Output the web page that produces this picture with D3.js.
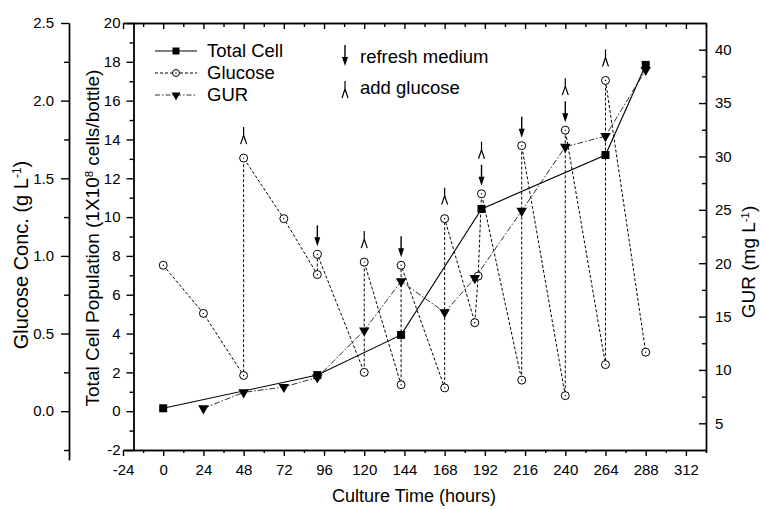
<!DOCTYPE html>
<html>
<head>
<meta charset="utf-8">
<script src="https://cdn.jsdelivr.net/npm/d3@7"></script>
<style>
  body { margin: 0; background: #fff; }
  text { font-family: "Liberation Sans", Arial, sans-serif; fill: #000; }
</style>
</head>
<body>
<div id="chart"></div>
<script>
// values
var cellTime = [0, 92, 142, 190, 264, 288];
var cellValue = [0.15, 1.86, 3.93, 10.42, 13.2, 17.84];

var gluTime = [0, 24, 48, 48, 72, 92, 92, 120, 120, 142, 142, 168, 168, 186, 188, 190, 214, 214, 240, 240, 264, 264, 288];
var gluValue = [0.94, 0.63, 0.23, 1.63, 1.24, 0.88, 1.01, 0.25, 0.96, 0.17, 0.94, 0.15, 1.24, 0.57, 0.87, 1.40, 0.20, 1.71, 0.10, 1.81, 0.30, 2.13, 0.38];

var gurTime = [24, 48, 72, 92, 120, 142, 168, 186, 214, 240, 264, 288];
var gurValue = [6.4, 7.9, 8.4, 9.3, 13.7, 18.3, 15.4, 18.6, 24.9, 30.9, 31.9, 38.1];

// feeding events
var refreshTimes = [92, 142, 190, 214, 240];
var addTimes = [48, 120, 168, 190, 240, 264];

// tick labels
var xTicks = [-24, 0, 24, 48, 72, 96, 120, 144, 168, 192, 216, 240, 264, 288, 312];
var cellTicks = [-2, 0, 2, 4, 6, 8, 10, 12, 14, 16, 18, 20];
var gluTicks = [0, 0.5, 1.0, 1.5, 2.0, 2.5];
var gurTicks = [5, 10, 15, 20, 25, 30, 35, 40];

var width = 765, height = 509;

var svg = d3.select("#chart")
  .append("svg")
    .attr("width", width)
    .attr("height", height);

// scales
var x = d3.scaleLinear().domain([-24, 324]).range([123, 706]);
var yCell = d3.scaleLinear().domain([-2, 20]).range([450, 23]);
var yGlu = d3.scaleLinear().domain([-0.3125, 2.5]).range([yCell(-2.5), 23]);
var yGur = d3.scaleLinear().domain([2.5, 42.5]).range([450, 23]);

function zip(t, v) { return t.map(function(d, i) { return {t: d, v: v[i]}; }); }
var cellData = zip(cellTime, cellValue);
var gluData = zip(gluTime, gluValue);
var gurData = zip(gurTime, gurValue);

// plain hyphen for negatives, like the original
function plain(d) { return String(d); }

function styleAxis(g) {
  g.selectAll("path, line").attr("stroke", "#000").attr("stroke-width", 1.4);
  g.selectAll("text").style("font-size", "15px").attr("fill", "#000");
}

// bottom axis
var xMinor = d3.range(-12, 325, 24);
svg.append("g")
  .attr("transform", "translate(0,450)")
  .call(d3.axisBottom(x).tickValues(xTicks).tickFormat(plain).tickSize(6).tickSizeOuter(0).tickPadding(8))
  .call(styleAxis);
svg.append("g")
  .attr("transform", "translate(0,450)")
  .call(d3.axisBottom(x).tickValues(xMinor.concat([324])).tickSize(3).tickSizeOuter(0).tickFormat(""))
  .call(styleAxis);

// top axis, ticks inward
svg.append("g")
  .attr("transform", "translate(0,23)")
  .call(d3.axisBottom(x).tickValues(xTicks).tickSize(6).tickSizeOuter(0).tickFormat(""))
  .call(styleAxis);
svg.append("g")
  .attr("transform", "translate(0,23)")
  .call(d3.axisBottom(x).tickValues(xMinor).tickSize(4).tickSizeOuter(0).tickFormat(""))
  .call(styleAxis);

// cell population axis
svg.append("g")
  .attr("transform", "translate(133.5,0)")
  .call(d3.axisLeft(yCell).tickValues(cellTicks).tickFormat(plain).tickSize(7).tickSizeOuter(0).tickPadding(6))
  .call(styleAxis);
svg.append("g")
  .attr("transform", "translate(133.5,0)")
  .call(d3.axisLeft(yCell).tickValues(d3.range(-1, 20, 2)).tickSize(4).tickSizeOuter(0).tickFormat(""))
  .call(styleAxis);

// glucose axis
svg.append("g")
  .attr("transform", "translate(69,0)")
  .call(d3.axisLeft(yGlu).tickValues(gluTicks).tickFormat(d3.format(".1f")).tickSize(8).tickSizeOuter(0).tickPadding(7))
  .call(styleAxis);
svg.append("g")
  .attr("transform", "translate(69,0)")
  .call(d3.axisLeft(yGlu).tickValues([-0.25, 0.25, 0.75, 1.25, 1.75, 2.25]).tickSize(5).tickSizeOuter(0).tickFormat(""))
  .call(styleAxis);

// GUR axis, ticks inward
svg.append("g")
  .attr("transform", "translate(706,0)")
  .call(d3.axisRight(yGur).tickValues(gurTicks).tickSize(-7).tickSizeOuter(0).tickPadding(9))
  .call(styleAxis);
svg.append("g")
  .attr("transform", "translate(706,0)")
  .call(d3.axisRight(yGur).tickValues(d3.range(7.5, 40, 5)).tickSize(-4).tickSizeOuter(0).tickFormat(""))
  .call(styleAxis);

// axis titles
function titleWithSup(sel, before, sup, after) {
  sel.append("tspan").text(before);
  sel.append("tspan").attr("dy", "-0.55em").style("font-size", "0.6em").text(sup);
  sel.append("tspan").attr("dy", "0.33em").text(after);
}

svg.append("text")
  .attr("transform", "translate(28,255) rotate(-90)")
  .attr("text-anchor", "middle")
  .style("font-size", "20px")
  .call(titleWithSup, "Glucose Conc. (g L", "-1", ")");

svg.append("text")
  .attr("transform", "translate(99,238) rotate(-90)")
  .attr("text-anchor", "middle")
  .style("font-size", "19px")
  .call(titleWithSup, "Total Cell Population (1X10", "8", " cells/bottle)");

svg.append("text")
  .attr("transform", "translate(755,262) rotate(-90)")
  .attr("text-anchor", "middle")
  .style("font-size", "19px")
  .call(titleWithSup, "GUR (mg L", "-1", ")");

svg.append("text")
  .attr("x", 414)
  .attr("y", 502)
  .attr("text-anchor", "middle")
  .style("font-size", "18px")
  .text("Culture Time (hours)");

// the lines
svg.append("path")
  .datum(gluData)
  .attr("fill", "none")
  .attr("stroke", "#000")
  .attr("stroke-width", 1)
  .attr("stroke-dasharray", "3,2")
  .attr("d", d3.line().x(function(d) { return x(d.t); }).y(function(d) { return yGlu(d.v); }));

svg.append("path")
  .datum(gurData)
  .attr("fill", "none")
  .attr("stroke", "#333")
  .attr("stroke-width", 1)
  .attr("stroke-dasharray", "6,2,1.5,2")
  .attr("d", d3.line().x(function(d) { return x(d.t); }).y(function(d) { return yGur(d.v); }));

svg.append("path")
  .datum(cellData)
  .attr("fill", "none")
  .attr("stroke", "#000")
  .attr("stroke-width", 1.1)
  .attr("d", d3.line().x(function(d) { return x(d.t); }).y(function(d) { return yCell(d.v); }));

// markers
function circleMark(g, cx, cy, r) {
  g.append("circle").attr("cx", cx).attr("cy", cy).attr("r", r)
    .attr("fill", "#fff").attr("stroke", "#000").attr("stroke-width", 1);
  g.append("circle").attr("cx", cx).attr("cy", cy).attr("r", 0.7).attr("fill", "#000");
}
function squareMark(g, cx, cy, s) {
  g.append("path")
    .attr("transform", "translate(" + cx + "," + cy + ")")
    .attr("d", d3.symbol().type(d3.symbolSquare).size(s * s)())
    .attr("fill", "#000");
}
function triangleMark(g, cx, cy, w) {
  g.append("path")
    .attr("transform", "translate(" + cx + "," + cy + ") rotate(180)")
    .attr("d", d3.symbol().type(d3.symbolTriangle).size(Math.sqrt(3) / 4 * w * w)())
    .attr("fill", "#000");
}

var marks = svg.append("g");
gluData.forEach(function(d) { circleMark(marks, x(d.t), yGlu(d.v), 4); });
gurData.forEach(function(d) { triangleMark(marks, x(d.t), yGur(d.v), 10.5); });
cellData.forEach(function(d) { squareMark(marks, x(d.t), yCell(d.v), 8); });

// feeding symbols
function downArrow(g, cx, tip) {
  g.append("line").attr("x1", cx).attr("x2", cx).attr("y1", tip - 21).attr("y2", tip - 6)
    .attr("stroke", "#000").attr("stroke-width", 1.4);
  g.append("path")
    .attr("d", "M" + (cx - 3) + "," + (tip - 9) + "L" + (cx + 3) + "," + (tip - 9) + "L" + cx + "," + tip + "Z")
    .attr("fill", "#000");
}
function addMark(g, cx, base) {
  g.append("path")
    .attr("d", "M" + cx + "," + (base - 17) + "V" + (base - 8) +
               "M" + (cx - 3) + "," + base + "L" + cx + "," + (base - 9) + "L" + (cx + 3) + "," + base)
    .attr("fill", "none")
    .attr("stroke", "#000")
    .attr("stroke-width", 1.2);
}
function topGlucose(t) {
  return yGlu(d3.max(gluData.filter(function(d) { return d.t === t; }), function(d) { return d.v; }));
}

var notes = svg.append("g");
refreshTimes.forEach(function(t) { downArrow(notes, x(t), topGlucose(t) - 8); });
addTimes.forEach(function(t) {
  var cy = topGlucose(t);
  var base = refreshTimes.indexOf(t) >= 0 ? cy - 35 : cy - 14;
  addMark(notes, x(t), base);
});

// legend
var legend = svg.append("g");
var rows = [
  {label: "Total Cell", y: 51, dash: null, color: "#000"},
  {label: "Glucose", y: 73, dash: "3,2", color: "#000"},
  {label: "GUR", y: 95, dash: "5,2,1.5,2", color: "#333"}
];
rows.forEach(function(r, i) {
  legend.append("line")
    .attr("x1", 155).attr("x2", 197).attr("y1", r.y).attr("y2", r.y)
    .attr("stroke", r.color).attr("stroke-width", 1)
    .attr("stroke-dasharray", r.dash);
  if (i === 0) squareMark(legend, 176, r.y, 7);
  if (i === 1) circleMark(legend, 176, r.y, 3.5);
  if (i === 2) triangleMark(legend, 176, r.y, 9);
  legend.append("text")
    .attr("x", 207).attr("y", r.y).attr("dy", "0.35em")
    .style("font-size", "18.5px")
    .text(r.label);
});

downArrow(legend, 345, 66);
legend.append("text").attr("x", 360).attr("y", 57).attr("dy", "0.35em")
  .style("font-size", "18.5px").text("refresh medium");
addMark(legend, 345, 98);
legend.append("text").attr("x", 360).attr("y", 88).attr("dy", "0.35em")
  .style("font-size", "18.5px").text("add glucose");
</script>
</body>
</html>
